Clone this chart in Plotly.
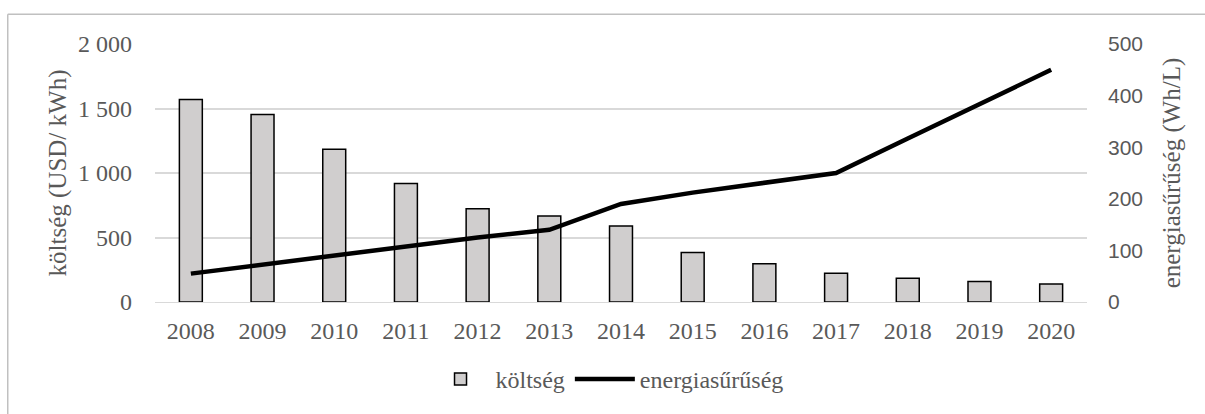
import plotly.graph_objects as go

years = ['2008', '2009', '2010', '2011', '2012', '2013', '2014',
         '2015', '2016', '2017', '2018', '2019', '2020']
koltseg = [1570, 1453, 1185, 919, 722, 666, 590, 383, 296, 222, 184, 158, 140]
energia = [55, 73, 91, 108, 125, 140, 190, 212, 232, 250, 317, 383, 450]

serif = 'Liberation Serif, Times New Roman, serif'
sans = 'Liberation Sans, Arial, sans-serif'
grey = '#595959'
border = '#c0c0c0'

bars = go.Bar(x=years, y=koltseg, name='költség',
              marker=dict(color='#d0cece', line=dict(color='black', width=1.5)))
line = go.Scatter(x=years, y=energia, name='energiasűrűség', yaxis='y2',
                  mode='lines', line=dict(color='black', width=4.5))

layout = go.Layout(
    width=1205, height=414,
    margin=dict(l=155, r=118, t=44, b=109),
    plot_bgcolor='white', paper_bgcolor='white',
    separators=', ',
    bargap=0.68,
    showlegend=True,
    legend=dict(orientation='h', x=0.485, xanchor='center', y=-0.3, yanchor='middle',
                font=dict(family=serif, size=24, color=grey),
                itemwidth=60, tracegroupgap=0),
    xaxis=dict(tickfont=dict(family=serif, size=24, color=grey),
               ticklabelstandoff=7,
               showline=True, linecolor='#d9d9d9', linewidth=1, ticks=''),
    yaxis=dict(range=[0, 2000], dtick=500, separatethousands=True,
               tickfont=dict(family=serif, size=24, color=grey),
               ticklabelstandoff=22,
               gridcolor='#d9d9d9', gridwidth=1.5, zeroline=False,
               title=dict(text='költség (USD/ kWh)', standoff=4,
                          font=dict(family=serif, size=25, color=grey))),
    yaxis2=dict(range=[0, 500], dtick=100, overlaying='y', side='right',
                showgrid=False, zeroline=False,
                tickfont=dict(family=sans, size=21, color=grey),
                ticklabelstandoff=20,
                title=dict(text='energiasűrűség (Wh/L)', standoff=20,
                           font=dict(family=serif, size=25, color=grey))),
    # chart frame: only top and left edges show in the picture
    shapes=[dict(type='line', xref='paper', yref='paper',
                 x0=-0.158, x1=1.3, y0=1.115, y1=1.115,
                 line=dict(color=border, width=1.5)),
            dict(type='line', xref='paper', yref='paper',
                 x0=-0.158, x1=-0.158, y0=-0.6, y1=1.115,
                 line=dict(color=border, width=1.5))],
)

fig = go.Figure(data=[bars, line], layout=layout)
# drop the default page margin so the figure sits at the window's corner
fig.write_html('out.html', config={'displayModeBar': False},
               post_script="document.body.style.margin='0';"
                           "document.body.style.overflow='hidden';")
